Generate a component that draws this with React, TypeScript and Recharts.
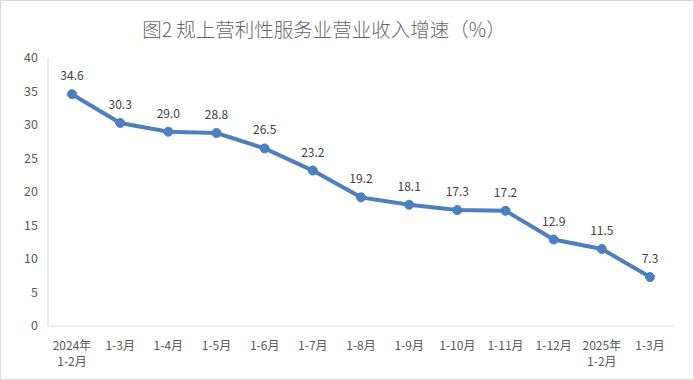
import React from "react";
import { LineChart, Line, XAxis, YAxis, LabelList } from "recharts";

const periods = [
  "2024年\n1-2月",
  "1-3月",
  "1-4月",
  "1-5月",
  "1-6月",
  "1-7月",
  "1-8月",
  "1-9月",
  "1-10月",
  "1-11月",
  "1-12月",
  "2025年\n1-2月",
  "1-3月",
];
const growth = [34.6, 30.3, 29.0, 28.8, 26.5, 23.2, 19.2, 18.1, 17.3, 17.2, 12.9, 11.5, 7.3];
const yTicks = [0, 5, 10, 15, 20, 25, 30, 35, 40];

const data = periods.map((p, i) => ({ key: i, period: p, value: growth[i] }));

const font = '"Noto Sans CJK SC", "Liberation Sans", sans-serif';
const textColor = "#595959";
const lineColor = "#4D7FBF";

function PeriodTick(props: any) {
  const { x, y, payload } = props;
  const lines = String(periods[payload.value] ?? "").split("\n");
  return (
    <text x={x} y={y} textAnchor="middle" fill={textColor} fontSize={12} fontFamily={font}>
      {lines.map((l, i) => (
        <tspan key={i} x={x} dy={16}>
          {l}
        </tspan>
      ))}
    </text>
  );
}

export default function App() {
  return (
    <div
      style={{
        position: "absolute",
        left: 0,
        top: 0,
        width: 694,
        height: 380,
        boxSizing: "border-box",
        border: "1px solid #d9d9d9",
        background: "#fff",
      }}
    >
      <div
        style={{
          position: "absolute",
          top: 13,
          left: 0,
          width: 646,
          textAlign: "center",
          fontFamily: font,
          fontSize: 19.5,
          fontWeight: 300,
          color: "#666666",
        }}
      >
        图2 规上营利性服务业营业收入增速（%）
      </div>
      <LineChart
        width={692}
        height={378}
        data={data}
        margin={{ top: 57, right: 19, bottom: 0, left: 0 }}
      >
        <XAxis
          dataKey="key"
          type="category"
          tick={<PeriodTick />}
          tickLine={false}
          axisLine={{ stroke: "#d9d9d9" }}
          interval={0}
          height={53}
          padding={{ left: 24, right: 24 }}
        />
        <YAxis
          domain={[0, 40]}
          ticks={yTicks}
          width={47}
          tickLine={false}
          tickSize={0}
          tickMargin={10}
          axisLine={{ stroke: "#d9d9d9" }}
          tick={{ fill: textColor, fontSize: 12.5, fontFamily: font }}
        />
        <Line
          dataKey="value"
          stroke={lineColor}
          strokeWidth={4}
          dot={{ r: 4.5, fill: lineColor, stroke: lineColor, strokeWidth: 1 }}
          type="linear"
          isAnimationActive={false}
        >
          <LabelList
            dataKey="value"
            position="top"
            offset={14}
            fill="#404040"
            fontSize={12}
            fontFamily={font}
            formatter={(v: any) => Number(v).toFixed(1)}
          />
        </Line>
      </LineChart>
    </div>
  );
}
